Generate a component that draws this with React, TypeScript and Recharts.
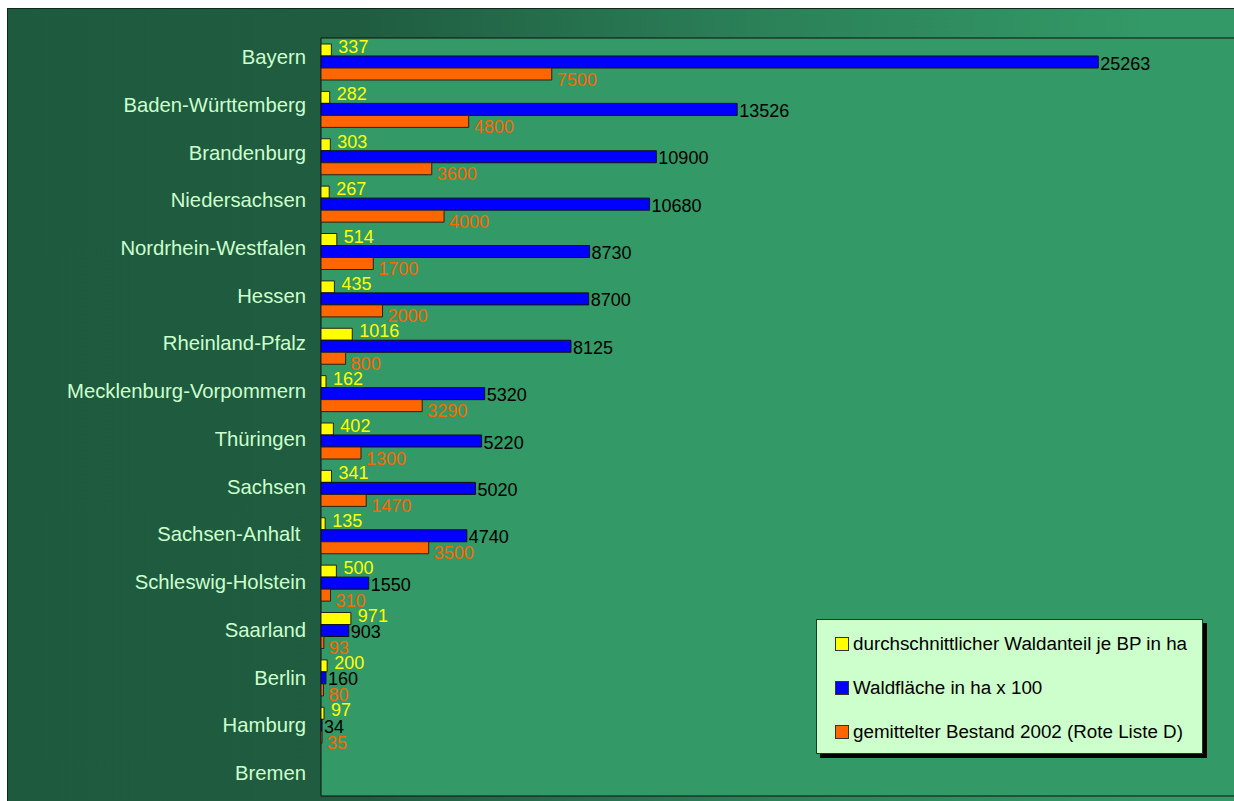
import { BarChart, Bar, XAxis, YAxis, CartesianGrid, Legend, LabelList } from 'recharts';

const states = [
  'Bayern', 'Baden-Württemberg', 'Brandenburg', 'Niedersachsen', 'Nordrhein-Westfalen', 'Hessen',
  'Rheinland-Pfalz', 'Mecklenburg-Vorpommern', 'Thüringen', 'Sachsen', 'Sachsen-Anhalt\u00a0',
  'Schleswig-Holstein', 'Saarland', 'Berlin', 'Hamburg', 'Bremen',
];
const waldanteil = [337, 282, 303, 267, 514, 435, 1016, 162, 402, 341, 135, 500, 971, 200, 97, null];
const waldflaeche = [25263, 13526, 10900, 10680, 8730, 8700, 8125, 5320, 5220, 5020, 4740, 1550, 903, 160, 34, null];
const bestand = [7500, 4800, 3600, 4000, 1700, 2000, 800, 3290, 1300, 1470, 3500, 310, 93, 80, 35, null];

const seriesNames = [
  'durchschnittlicher Waldanteil je BP in ha',
  'Waldfläche in ha x 100',
  'gemittelter Bestand 2002 (Rote Liste D)',
];

const data = states.map((s, i) => ({
  name: s,
  anteil: waldanteil[i],
  flaeche: waldflaeche[i],
  bestand: bestand[i],
}));

const FONT = '"Liberation Sans", Arial, sans-serif';

// label next to bar end, shifted up/down per series
const makeLabel = (color: string, dx: number, dy: number) => (props: any) => {
  const { x, y, width, height, value } = props;
  if (value === null || value === undefined) return null;
  return (
    <text
      x={Number(x) + Number(width) + dx}
      y={Number(y) + Number(height) / 2 + dy}
      fill={color}
      fontSize={18}
      fontFamily={FONT}
      dominantBaseline="central"
    >
      {value}
    </text>
  );
};

const legendColors = ['#ffff00', '#0000ff', '#ff6600'];

const renderLegend = () => (
  <div
    style={{
      width: 387,
      height: 135,
      background: '#ccffcc',
      border: '1px solid #1a3a2a',
      boxShadow: '4px 4px 0 #000',
      fontFamily: FONT,
      fontSize: 18.8,
      color: '#000',
      boxSizing: 'border-box',
      paddingTop: 2,
    }}
  >
    {seriesNames.map((n, i) => (
      <div key={n} style={{ display: 'flex', alignItems: 'center', height: 44, paddingLeft: 18 }}>
        <span
          style={{
            width: 12,
            height: 12,
            background: legendColors[i],
            border: '1px solid #333',
            marginRight: 4,
            display: 'inline-block',
            flex: 'none',
          }}
        />
        <span style={{ whiteSpace: 'nowrap' }}>{n}</span>
      </div>
    ))}
  </div>
);

// category labels drift slightly relative to the bar rows in the original
const CategoryTick = (props: any) => {
  const { x, y, payload, index } = props;
  return (
    <text
      x={x}
      y={y - 4.6 + index * 0.35}
      textAnchor="end"
      dominantBaseline="central"
      fill="#ccffcc"
      fontSize={20.3}
      fontFamily={FONT}
    >
      {payload.value}
    </text>
  );
};

export default function App() {
  return (
    <div style={{ position: 'fixed', left: 0, top: 0, width: 1234, height: 801, overflow: 'hidden', background: '#fff' }}>
      <div
        style={{
          position: 'absolute',
          left: 7,
          top: 8,
          width: 1240,
          height: 793,
          border: '1px solid #0d2a1c',
          background: 'linear-gradient(90deg, #1e5a3e 0%, #1f5c40 28%, #2b8058 60%, #339966 92%)',
        }}
      >
        <BarChart
          width={1240}
          height={793}
          data={data}
          layout="vertical"
          margin={{ top: 29, right: 4, left: 0, bottom: 6 }}
          barSize={12}
          barGap={0}
        >
          <CartesianGrid
            fill="#339966"
            stroke="#111"
            horizontalCoordinatesGenerator={({ offset }: any) => [offset.top, offset.top + offset.height]}
            verticalCoordinatesGenerator={({ offset }: any) => [offset.left, offset.left + offset.width]}
          />
          <XAxis type="number" domain={[0, 30000]} hide />
          <YAxis
            type="category"
            dataKey="name"
            width={313}
            axisLine={false}
            tickLine={false}
            tickMargin={9}
            interval={0}
            tick={<CategoryTick />}
          />
          <Legend
            layout="horizontal"
            verticalAlign="middle"
            align="center"
            content={renderLegend}
            wrapperStyle={{ left: 808, top: 610, width: 395, height: 140 }}
          />
          <Bar dataKey="anteil" name={seriesNames[0]} fill="#ffff00" stroke="#222" strokeWidth={1} isAnimationActive={false}>
            <LabelList dataKey="anteil" content={makeLabel('#ffff00', 7, -3)} />
          </Bar>
          <Bar dataKey="flaeche" name={seriesNames[1]} fill="#0000ff" stroke="#111" strokeWidth={1} isAnimationActive={false}>
            <LabelList dataKey="flaeche" content={makeLabel('#000000', 2, 1.5)} />
          </Bar>
          <Bar dataKey="bestand" name={seriesNames[2]} fill="#ff6600" stroke="#222" strokeWidth={1} isAnimationActive={false}>
            <LabelList dataKey="bestand" content={makeLabel('#ff6600', 5, 5.5)} />
          </Bar>
        </BarChart>
      </div>
    </div>
  );
}
